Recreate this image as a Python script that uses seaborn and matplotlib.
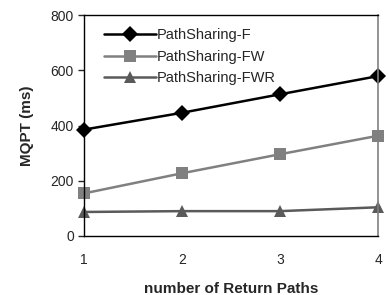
import pandas as pd
import seaborn as sns
from matplotlib import pyplot as plt

paths = [1, 2, 3, 4]
ps_f = [385, 446, 513, 579]
ps_fw = [154, 227, 296, 363]
ps_fwr = [87, 90, 90, 104]
names = ["PathSharing-F", "PathSharing-FW", "PathSharing-FWR"]

df = pd.DataFrame({
    "paths": paths * 3,
    "mqpt": ps_f + ps_fw + ps_fwr,
    "series": [n for n in names for _ in paths],
})

sns.set_style("white")
plt.rcParams["font.family"] = ["Liberation Sans", "DejaVu Sans"]

fig, ax = plt.subplots(figsize=(3.89, 2.95), dpi=100)
fig.subplots_adjust(left=0.215, right=0.972, top=0.949, bottom=0.2)

sns.lineplot(data=df, x="paths", y="mqpt", hue="series", style="series",
             palette=["#000000", "#808080", "#5a5a5a"],
             markers=["D", "s", "^"], dashes=False, markersize=8,
             linewidth=1.8, markeredgewidth=0, ax=ax, clip_on=False)

ax.set_xlim(1, 4)
ax.set_ylim(0, 800)
ax.set_xticks(paths)
ax.set_yticks([0, 200, 400, 600, 800])
ax.tick_params(axis="x", direction="inout", length=6, width=1, labelsize=10, pad=9)
ax.tick_params(axis="y", direction="out", length=4, width=1, labelsize=10, left=True, pad=3)
for s in ["left", "bottom", "top"]:
    ax.spines[s].set_color("black")
    ax.spines[s].set_linewidth(1)
ax.spines["right"].set_color("#808080")
ax.spines["right"].set_linewidth(1.2)

ax.set_xlabel("number of Return Paths", fontsize=11, fontweight="bold", labelpad=11)
ax.set_ylabel("MQPT (ms)", fontsize=11, fontweight="bold", labelpad=12)

leg = ax.legend(loc="upper left", frameon=False, fontsize=10.5, handlelength=3.6,
                handletextpad=0.05, labelspacing=0.5, borderaxespad=0.3,
                bbox_to_anchor=(0.033, 0.986))
for h in leg.legend_handles:
    h.set_markersize(8)
    h.set_linewidth(1.8)

plt.savefig("out.png", dpi=100)
